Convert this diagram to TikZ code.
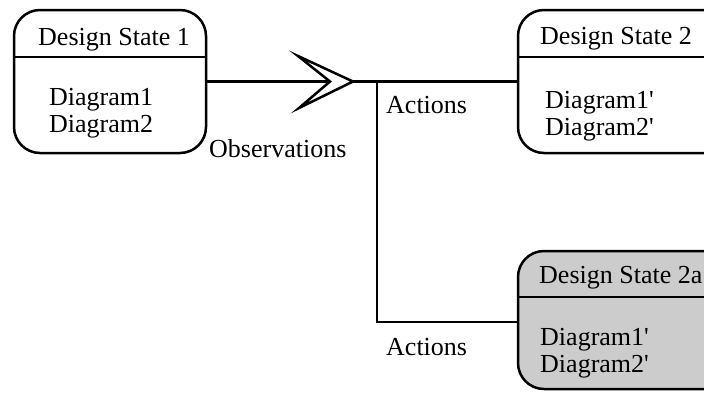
\documentclass[tikz,border=0pt]{standalone}
\usepackage{fontspec}
\setmainfont{Liberation Serif}[Ligatures=TeXOff]
\begin{document}
\begin{tikzpicture}[x=1pt,y=-1pt,
  every node/.style={font=\fontsize{26}{27}\selectfont},
  statebox/.style={draw=black, line width=2.5pt, rounded corners=26pt, inner sep=0pt},
  shaded/.style={fill=black!20},
  wire/.style={draw=black, line width=2.5pt},
  txt/.style={anchor=base west, inner sep=0pt}]
\useasboundingbox (0,0) rectangle (704,392);
\clip (0,0) rectangle (704,392);
% boxes
\node[statebox, minimum width=192pt, minimum height=143pt] (b1) at (110,81.5) {};
\node[statebox, minimum width=222pt, minimum height=143pt] (b2) at (629,81.5) {};
\node[statebox, shaded, minimum width=222pt, minimum height=138pt] (b2a) at (629,320) {};
\draw[wire] (b1.west |- 0,57) -- (b1.east |- 0,57);
\draw[wire] (b2.west |- 0,57) -- (b2.east |- 0,57);
\draw[wire] (b2a.west |- 0,297) -- (b2a.east |- 0,297);
% texts
\node[txt] (t1) at (38,45) {Design State 1};
\node[txt] (d11) at (49,105) {Diagram1};
\node[txt] (d12) at (49,132) {Diagram2};
\node[txt] (t2) at (540,44) {Design State 2};
\node[txt] (d21) at (545,108) {Diagram1'};
\node[txt] (d22) at (545,135) {Diagram2'};
\node[txt] (t2a) at (539,283) {Design State 2a};
\node[txt] (d2a1) at (540,345) {Diagram1'};
\node[txt] (d2a2) at (540,372) {Diagram2'};
\node[txt] (obs) at (209,157) {Observations};
\node[txt] (act1) at (386,113) {Actions};
\node[txt] (act2) at (386,355) {Actions};
% connectors
\coordinate (notch) at (330,81.5);
\coordinate (tip) at (353,81.5);
\coordinate (junc) at (377,81.5);
\coordinate (low) at (377,322);
\draw[wire] (b1.east) -- (notch);
\draw[wire, fill=white, line join=miter] (298,56) -- (tip) -- (299,108) -- (notch) -- cycle;
\draw[wire] (tip) -- (b2.west);
\draw[wire] (junc) -- (low) -- (b2a.west |- low);
\end{tikzpicture}
\end{document}
